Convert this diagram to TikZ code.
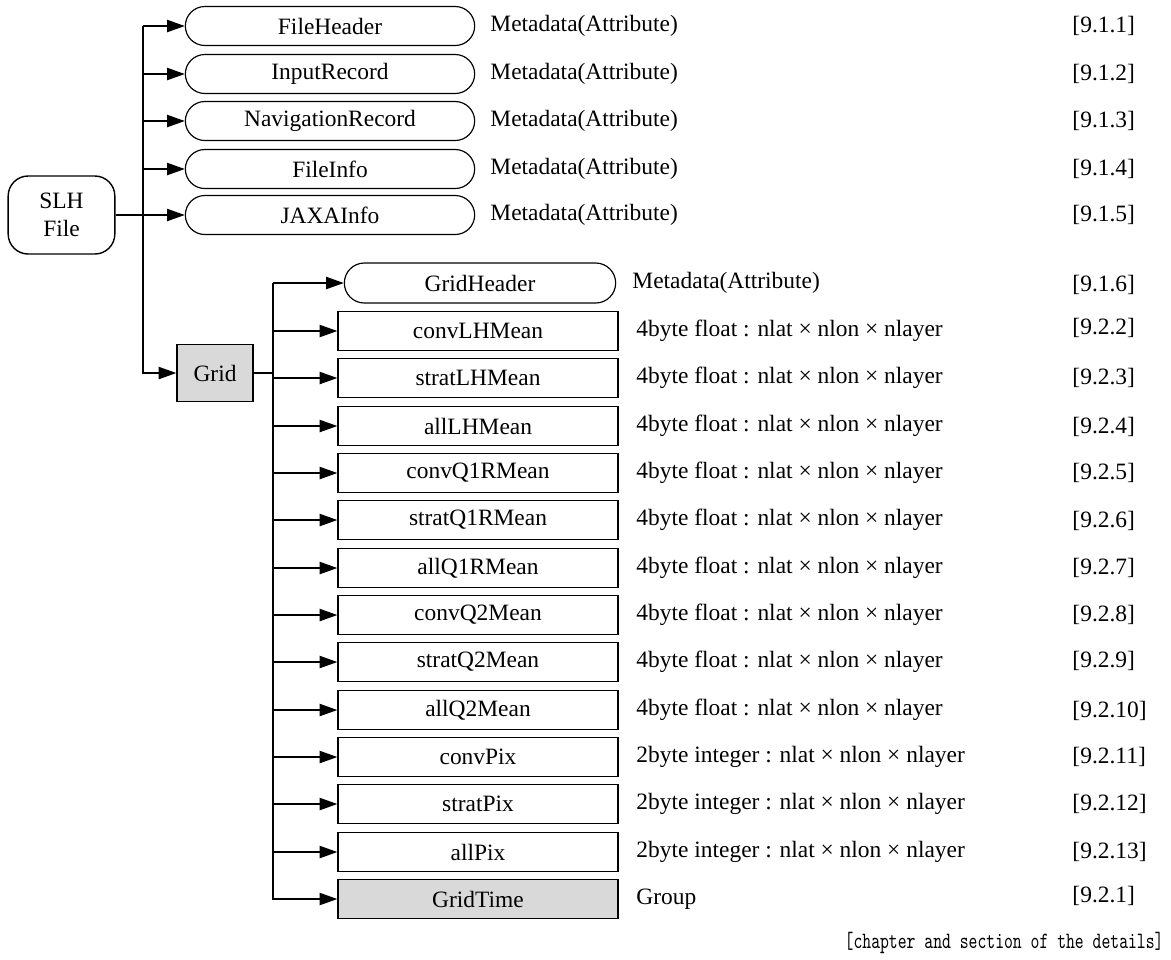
\documentclass[tikz,border=0pt]{standalone}
\usepackage{fontspec}
\setmainfont{Liberation Serif}
\usetikzlibrary{arrows.meta,shapes.misc,positioning}
\definecolor{groupgrey}{RGB}{217,217,217}

\begin{document}
\begin{tikzpicture}[x=0.015cm, y=-0.015cm, font=\fontsize{10}{12}\selectfont,
    root/.style={rectangle, draw, line width=0.6pt, rounded corners=0.3cm,
               minimum width=1.6cm, minimum height=1.17cm, align=center, inner sep=1pt},
    meta/.style={rounded rectangle, draw, line width=0.5pt,
               minimum width=4.41cm, minimum height=0.585cm, inner sep=1pt},
    data/.style={rectangle, draw, line width=0.6pt,
               minimum width=4.2cm, minimum height=0.585cm, inner sep=1pt},
    group/.style={data, fill=groupgrey},
    desc/.style={anchor=west, inner sep=0pt},
    ref/.style={anchor=west, inner sep=0pt},
    arr/.style={-{Triangle[length=7.5pt, width=5.2pt]}, line width=0.6pt}
]
    \useasboundingbox (0,0) rectangle (1171,959);

    % Root file and its metadata groups
    \node[root] (slh) at (61.5,215) {SLH\\File};
    \node[meta] (fh) at (330,26)  {FileHeader};
    \node[meta] (ir) at (330,74)  {InputRecord};
    \node[meta] (nr) at (330,121) {NavigationRecord};
    \node[meta] (fi) at (330,169) {FileInfo};
    \node[meta] (ja) at (330,215) {JAXAInfo};
    \node[group, minimum width=1.14cm, minimum height=0.855cm] (grid) at (215,373) {Grid};

    \node[desc] at (490,26)  {Metadata(Attribute)};
    \node[desc] at (490,74)  {Metadata(Attribute)};
    \node[desc] at (490,121) {Metadata(Attribute)};
    \node[desc] at (490,169) {Metadata(Attribute)};
    \node[desc] at (490,215) {Metadata(Attribute)};

    % Grid children
    \node[meta, minimum width=4.14cm, minimum height=0.6cm] (gh) at (480,283) {GridHeader};
    \node[data]  (d1)  at (478,331) {convLHMean};
    \node[data]  (d2)  at (478,378) {stratLHMean};
    \node[data]  (d3)  at (478,426) {allLHMean};
    \node[data]  (d4)  at (478,473) {convQ1RMean};
    \node[data]  (d5)  at (478,520) {stratQ1RMean};
    \node[data]  (d6)  at (478,568) {allQ1RMean};
    \node[data]  (d7)  at (478,615) {convQ2Mean};
    \node[data]  (d8)  at (478,662) {stratQ2Mean};
    \node[data]  (d9)  at (478,710) {allQ2Mean};
    \node[data]  (d10) at (478,757) {convPix};
    \node[data]  (d11) at (478,804) {stratPix};
    \node[data]  (d12) at (478,852) {allPix};
    \node[group] (gt)  at (478,899) {GridTime};

    \node[desc] at (632,283) {Metadata(Attribute)};
    \node[desc] at (636,331) {4byte float : nlat × nlon × nlayer};
    \node[desc] at (636,378) {4byte float : nlat × nlon × nlayer};
    \node[desc] at (636,426) {4byte float : nlat × nlon × nlayer};
    \node[desc] at (636,473) {4byte float : nlat × nlon × nlayer};
    \node[desc] at (636,520) {4byte float : nlat × nlon × nlayer};
    \node[desc] at (636,568) {4byte float : nlat × nlon × nlayer};
    \node[desc] at (636,615) {4byte float : nlat × nlon × nlayer};
    \node[desc] at (636,662) {4byte float : nlat × nlon × nlayer};
    \node[desc] at (636,710) {4byte float : nlat × nlon × nlayer};
    \node[desc] at (636,757) {2byte integer : nlat × nlon × nlayer};
    \node[desc] at (636,804) {2byte integer : nlat × nlon × nlayer};
    \node[desc] at (636,852) {2byte integer : nlat × nlon × nlayer};
    \node[desc] at (636,899) {Group};

    % Section references
    \node[ref] at (1072,26)  {[9.1.1]};
    \node[ref] at (1072,74)  {[9.1.2]};
    \node[ref] at (1072,121) {[9.1.3]};
    \node[ref] at (1072,169) {[9.1.4]};
    \node[ref] at (1072,215) {[9.1.5]};
    \node[ref] at (1072,285) {[9.1.6]};
    \node[ref] at (1072,328) {[9.2.2]};
    \node[ref] at (1072,378) {[9.2.3]};
    \node[ref] at (1072,427) {[9.2.4]};
    \node[ref] at (1072,473) {[9.2.5]};
    \node[ref] at (1072,521) {[9.2.6]};
    \node[ref] at (1072,568) {[9.2.7]};
    \node[ref] at (1072,615) {[9.2.8]};
    \node[ref] at (1072,661) {[9.2.9]};
    \node[ref] at (1072,711) {[9.2.10]};
    \node[ref] at (1072,757) {[9.2.11]};
    \node[ref] at (1072,804) {[9.2.12]};
    \node[ref] at (1072,852) {[9.2.13]};
    \node[ref] at (1072,896) {[9.2.1]};
    \node[anchor=east, inner sep=0pt] (note) at (1164,943)
        {\scalebox{0.72}[1]{\fontsize{10}{11}\ttfamily [chapter and section of the details]}};

    % Connectors
    \coordinate (busA) at (143,215);
    \coordinate (busB) at (273,373);
    \draw[line width=0.6pt] (slh) -- (busA);
    \draw[arr] (busA |- fh) |- (grid);
    \draw[arr] (busA |- fh) -- (fh);
    \draw[arr] (busA |- ir) -- (ir);
    \draw[arr] (busA |- nr) -- (nr);
    \draw[arr] (busA |- fi) -- (fi);
    \draw[arr] (busA |- ja) -- (ja);

    \draw[line width=0.6pt] (grid) -- (busB);
    \draw[arr] (busB |- gh) |- (gt);
    \draw[arr] (busB |- gh) -- (gh);
    \draw[arr] (busB |- d1)  -- (d1);
    \draw[arr] (busB |- d2)  -- (d2);
    \draw[arr] (busB |- d3)  -- (d3);
    \draw[arr] (busB |- d4)  -- (d4);
    \draw[arr] (busB |- d5)  -- (d5);
    \draw[arr] (busB |- d6)  -- (d6);
    \draw[arr] (busB |- d7)  -- (d7);
    \draw[arr] (busB |- d8)  -- (d8);
    \draw[arr] (busB |- d9)  -- (d9);
    \draw[arr] (busB |- d10) -- (d10);
    \draw[arr] (busB |- d11) -- (d11);
    \draw[arr] (busB |- d12) -- (d12);
\end{tikzpicture}
\end{document}
